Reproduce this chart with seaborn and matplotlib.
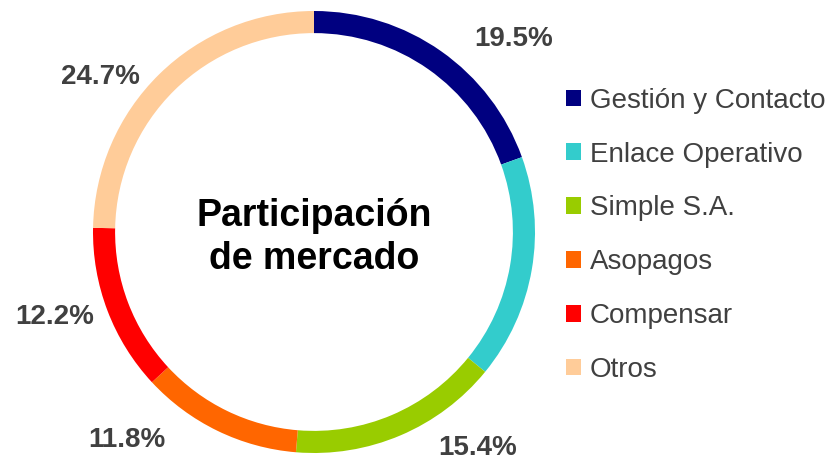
import matplotlib
matplotlib.use("Agg")
import matplotlib.pyplot as plt
import seaborn as sns

# datos del gráfico
empresas = ["Gestión y Contacto", "Enlace Operativo", "Simple S.A.",
            "Asopagos", "Compensar", "Otros"]
participacion = [19.5, 16.4, 15.4, 11.8, 12.2, 24.7]
etiquetas = ["19.5%", "", "15.4%", "11.8%", "12.2%", "24.7%"]
colores = ["#000080", "#33CCCC", "#99CC00", "#FF6600", "#FF0000", "#FFCC99"]

# posiciones de las etiquetas (unidades del radio del anillo)
pos_etiquetas = [(0.905, 0.842), None, (0.742, -1.010),
                 (-0.846, -0.973), (-1.172, -0.416), (-0.968, 0.670)]

sns.set_theme(style="white")
plt.rcParams['font.family'] = ['Liberation Sans', 'DejaVu Sans']

fig = plt.figure(figsize=(8.31, 4.61), dpi=100)
ax = fig.add_axes([93 / 831, 8 / 461, 442 / 831, 442 / 461])

wedges, _ = ax.pie(participacion, colors=colores, startangle=90,
                   counterclock=False, radius=1,
                   wedgeprops=dict(width=0.1, linewidth=0))
ax.set_xlim(-1, 1)
ax.set_ylim(-1, 1)
ax.set_aspect("equal")
ax.axis("off")

for txt, pos in zip(etiquetas, pos_etiquetas):
    if pos is None or txt == "":
        continue
    ax.text(pos[0], pos[1], txt, ha="center", va="baseline",
            fontsize=20, fontweight="bold", color="#404040")

ax.text(0, -0.025, "Participación\nde mercado", ha="center", va="center",
        fontsize=27, fontweight="bold", color="black", linespacing=1.25)

leg = fig.legend(wedges, empresas, loc="upper left",
                 bbox_to_anchor=(552 / 831, 1 - 74 / 461),
                 frameon=False, fontsize=20, borderpad=0,
                 handlelength=0.55, handleheight=0.55, handletextpad=0.32,
                 labelspacing=1.0, labelcolor="#404040")

fig.savefig("out.png", dpi=100)
